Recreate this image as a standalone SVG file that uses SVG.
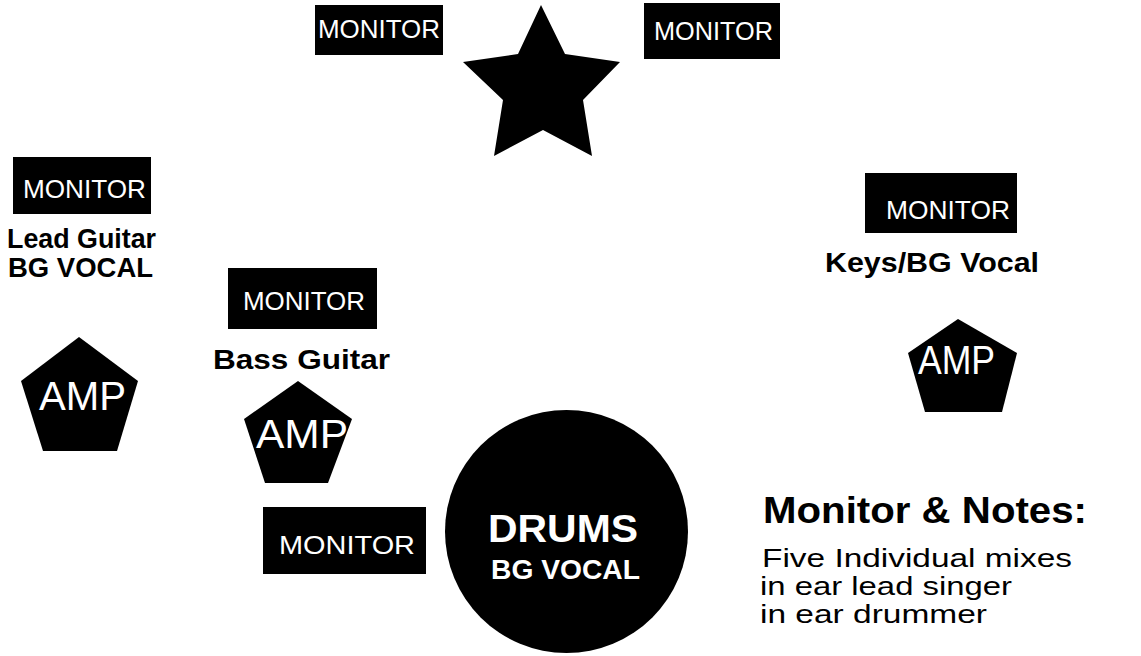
<svg xmlns="http://www.w3.org/2000/svg" width="1141" height="656" viewBox="0 0 1141 656">
<style>
.shape{fill:#000}
.mon{font-family:"Liberation Sans",Arial,sans-serif;font-size:26px;fill:#fff}
.amp{font-family:"Liberation Sans",Arial,sans-serif;font-size:40px;fill:#fff}
.lbl{font-family:"Liberation Sans",Arial,sans-serif;font-weight:bold;font-size:28px;fill:#000}
.note{font-family:"Liberation Sans",Arial,sans-serif;font-size:25px;fill:#000}
</style>
<rect width="1141" height="656" fill="#fff"/>
<g id="lead-singer">
<polygon class="shape" points="541,5 565,54 620,62 583,100 592,156 543,130 494,156 503,100 463,62 518,54"/>
</g>
<g id="monitor-top-left">
<rect class="shape" x="315" y="5" width="128" height="50"/>
<text class="mon" x="318" y="38" textLength="122" lengthAdjust="spacingAndGlyphs">MONITOR</text>
</g>
<g id="monitor-top-right">
<rect class="shape" x="644" y="3" width="136" height="56"/>
<text class="mon" x="654" y="40" textLength="119" lengthAdjust="spacingAndGlyphs">MONITOR</text>
</g>
<g id="lead-guitar">
<rect class="shape" x="13" y="157" width="138" height="57"/>
<text class="mon" x="23" y="198" textLength="123" lengthAdjust="spacingAndGlyphs">MONITOR</text>
<text class="lbl" x="7" y="248" textLength="149" lengthAdjust="spacingAndGlyphs">Lead Guitar</text>
<text class="lbl" x="8" y="277" textLength="145" lengthAdjust="spacingAndGlyphs">BG VOCAL</text>
</g>
<g id="amp-lead">
<polygon class="shape" points="79,337 138,381 117,451 43,451 21,381"/>
<text class="amp" x="39" y="410" textLength="87" lengthAdjust="spacingAndGlyphs">AMP</text>
</g>
<g id="bass-guitar">
<rect class="shape" x="228" y="268" width="149" height="61"/>
<text class="mon" x="243" y="310" textLength="122" lengthAdjust="spacingAndGlyphs">MONITOR</text>
<text class="lbl" x="213" y="369" textLength="177" lengthAdjust="spacingAndGlyphs">Bass Guitar</text>
</g>
<g id="amp-bass">
<polygon class="shape" points="298,381 352,419 328,483 265,483 244,419"/>
<text class="amp" x="256" y="448" textLength="92" lengthAdjust="spacingAndGlyphs">AMP</text>
</g>
<g id="keys">
<rect class="shape" x="865" y="173" width="152" height="60"/>
<text class="mon" x="886" y="219" textLength="124" lengthAdjust="spacingAndGlyphs">MONITOR</text>
<text class="lbl" x="825" y="272" textLength="214" lengthAdjust="spacingAndGlyphs">Keys/BG Vocal</text>
</g>
<g id="amp-keys">
<polygon class="shape" points="958,319 1017,353 1002,412 925,412 908,353"/>
<text class="amp" x="918" y="374" textLength="77" lengthAdjust="spacingAndGlyphs">AMP</text>
</g>
<g id="monitor-drums">
<rect class="shape" x="263" y="507" width="163" height="67"/>
<text class="mon" x="279" y="554" textLength="136" lengthAdjust="spacingAndGlyphs">MONITOR</text>
</g>
<g id="drums">
<circle class="shape" cx="566.5" cy="531.5" r="121.5"/>
<text class="lbl" x="488" y="542" style="font-size:39px;fill:#fff" textLength="150" lengthAdjust="spacingAndGlyphs">DRUMS</text>
<text class="lbl" x="491" y="579" style="font-size:28px;fill:#fff" textLength="149" lengthAdjust="spacingAndGlyphs">BG VOCAL</text>
</g>
<g id="notes">
<text class="lbl" x="763" y="523" style="font-size:37px" textLength="324" lengthAdjust="spacingAndGlyphs">Monitor &amp; Notes:</text>
<text class="note" x="762" y="567" textLength="310" lengthAdjust="spacingAndGlyphs">Five Individual mixes</text>
<text class="note" x="760" y="595" textLength="252" lengthAdjust="spacingAndGlyphs">in ear lead singer</text>
<text class="note" x="760" y="623" textLength="227" lengthAdjust="spacingAndGlyphs">in ear drummer</text>
</g>
<g id="connectors"></g>
</svg>
